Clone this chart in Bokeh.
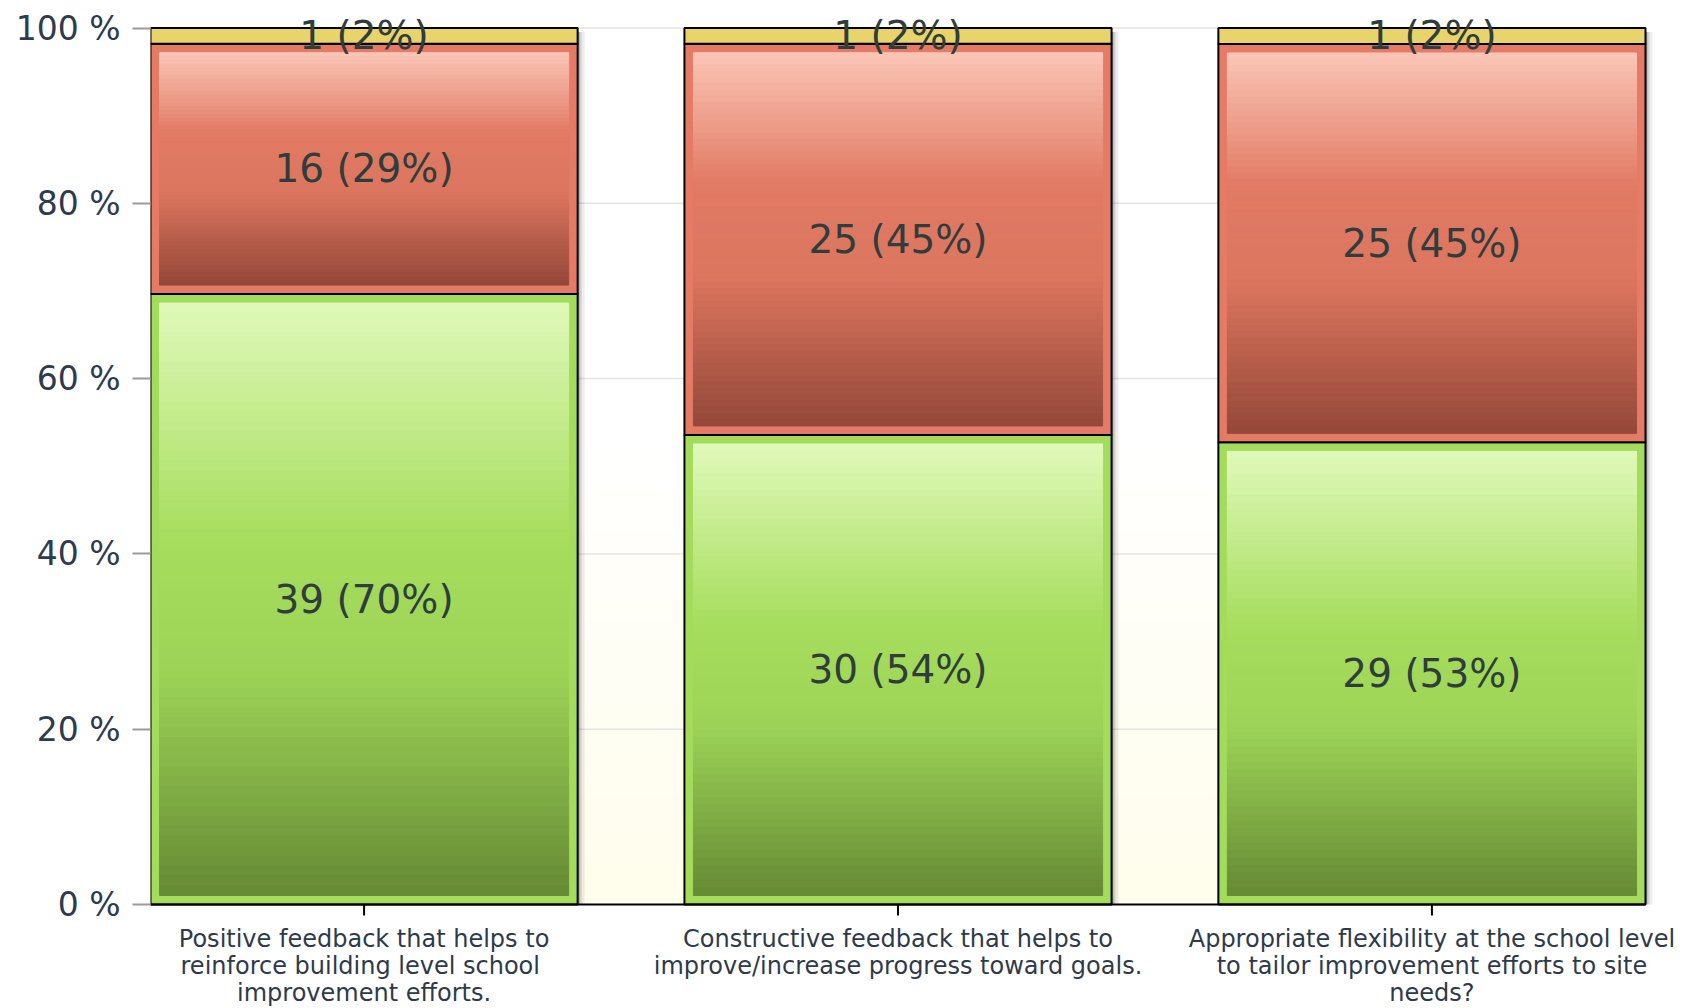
import numpy as np
from bokeh.plotting import figure
from bokeh.models import Range1d, FixedTicker, ColumnDataSource
from bokeh.core.properties import value
from bokeh.embed import file_html
from bokeh.resources import INLINE

# ---------------- data ----------------
categories = [
    "Positive feedback that helps to\nreinforce building  level school\nimprovement efforts.",
    "Constructive feedback that helps to\nimprove/increase progress toward goals.",
    "Appropriate flexibility at the school level\nto tailor improvement efforts to site\nneeds?",
]
green_counts = [39, 30, 29]
red_counts = [16, 25, 25]
yellow_counts = [1, 1, 1]
y_ticks = [0, 20, 40, 60, 80, 100]
y_tick_labels = ["0 %", "20 %", "40 %", "60 %", "80 %", "100 %"]

# ---------------- layout constants ----------------
W, H = 1680, 1008
BL, BT = 150, 10
PLOT_RIGHT = 1645          # canvas x where the plotting area ends
ZERO_PX = 904              # canvas y of the 0 % line
Y_END = 102
X0, X1 = -0.4, 2.4         # plotting area in data units
BAR_W = 0.8
frame_w = W - BL
frame_h = H - BT
px_x = (X1 - X0) / (PLOT_RIGHT - BL)
X_RANGE_END = X0 + frame_w * px_x
px_y = Y_END / (ZERO_PX - BT)
Y_START = Y_END - frame_h * px_y
INSET = 9
FONT = "DejaVu Sans"

def hex2rgb(h):
    h = h.lstrip("#")
    return np.array([int(h[i:i + 2], 16) for i in (0, 2, 4)], dtype=float)

def grad(stops, t):
    ts = [s[0] for s in stops]
    cols = [hex2rgb(s[1]) for s in stops]
    for k in range(len(ts) - 1):
        if ts[k] <= t <= ts[k + 1]:
            f = (t - ts[k]) / (ts[k + 1] - ts[k])
            c = cols[k] * (1 - f) + cols[k + 1] * f
            return "#%02x%02x%02x" % tuple(int(round(v)) for v in c)
    c = cols[-1]
    return "#%02x%02x%02x" % tuple(int(round(v)) for v in c)

green_style = dict(border="#a3dc5b",
                   stops=[(0, "#e0f9ba"), (0.4, "#a6dd5d"), (0.62, "#9dd457"), (1.0, "#668a35")])
red_style = dict(border="#e57b65",
                 stops=[(0, "#fac6b7"), (0.35, "#e27a64"), (0.6, "#dc765f"), (1.0, "#954839")])
yellow_style = dict(border="#e8d46a", stops=None)

series = [(green_counts, green_style), (red_counts, red_style), (yellow_counts, yellow_style)]

p = figure(width=W, height=H, output_backend="svg", toolbar_location=None,
           x_range=Range1d(X0, X_RANGE_END), y_range=Range1d(Y_START, Y_END),
           min_border_left=BL, min_border_right=0, min_border_top=BT, min_border_bottom=0)
p.outline_line_color = None
p.background_fill_color = "white"
p.border_fill_color = "white"

# background gradient (white top -> cream bottom), only inside the plotting area
nb = 40
edges = np.linspace(y_ticks[0], y_ticks[-1], nb + 1)
bg = dict(bottom=edges[:-1], top=edges[1:] + 0.05,
          color=[grad([(0, "#fffdeb"), (0.55, "#ffffff"), (1, "#ffffff")], (e0 + e1) / 200.0)
                 for e0, e1 in zip(edges[:-1], edges[1:])])
p.quad(left=X0, right=X1, bottom="bottom", top="top", fill_color="color", line_color=None,
       source=ColumnDataSource(bg), level="image")

# horizontal grid lines across the plotting area
p.segment(x0=[X0] * len(y_ticks), y0=y_ticks, x1=[X1] * len(y_ticks), y1=y_ticks,
          line_color="#e4e4e4", line_width=1.5, level="underlay")

totals = [sum(c[i] for c, _ in series) for i in range(len(categories))]
xs = list(range(len(categories)))

# shadows on right side
for off0, off1, a in [(0, 2, 0.35), (2, 4, 0.18), (4, 7, 0.07)]:
    p.quad(left=[x + BAR_W / 2 + off0 * px_x for x in xs],
           right=[x + BAR_W / 2 + off1 * px_x for x in xs],
           bottom=0, top=100 - 4 * px_y, fill_color="black", fill_alpha=a, line_color=None)

outer = dict(left=[], right=[], bottom=[], top=[], color=[])
inner = dict(left=[], right=[], bottom=[], top=[], color=[])
lab = dict(x=[], y=[], text=[])

for i, x in enumerate(xs):
    base = 0.0
    for counts, style in series:
        pct = counts[i] / totals[i] * 100.0
        b, t = base, base + pct
        l, r = x - BAR_W / 2, x + BAR_W / 2
        outer["left"].append(l); outer["right"].append(r)
        outer["bottom"].append(b); outer["top"].append(t)
        outer["color"].append(style["border"])
        ib, it = b + INSET * px_y, t - INSET * px_y
        if style["stops"] is not None and it > ib:
            n = 60
            e = np.linspace(it, ib, n + 1)
            for k in range(n):
                tt = (k + 0.5) / n
                inner["left"].append(l + INSET * px_x)
                inner["right"].append(r - INSET * px_x)
                inner["top"].append(e[k])
                inner["bottom"].append(e[k + 1])
                inner["color"].append(grad(style["stops"], tt))
        lab["x"].append(x)
        lab["y"].append((b + t) / 2)
        lab["text"].append(f"{counts[i]} ({round(pct)}%)")
        base = t

p.quad(left="left", right="right", bottom="bottom", top="top", fill_color="color",
       line_color="black", line_width=2, source=ColumnDataSource(outer))
p.quad(left="left", right="right", bottom="bottom", top="top", fill_color="color",
       line_color="color", line_width=1, source=ColumnDataSource(inner))
p.text(x="x", y="y", text="text", source=ColumnDataSource(lab),
       text_font=value(FONT), text_font_size="39px", text_align="center",
       text_baseline="middle", text_color="#2f3d3d")

# x axis drawn at y = 0 (line, ticks, multi-line category labels)
p.xaxis.visible = False
p.segment(x0=[X0], y0=[0], x1=[X1], y1=[0], line_color="black", line_width=2)
p.segment(x0=xs, y0=[0] * len(xs), x1=xs, y1=[-11 * px_y] * len(xs),
          line_color="black", line_width=2)
p.text(x=xs, y=[-20 * px_y] * len(xs), text=categories,
       text_font=value(FONT), text_font_size="24px", text_color="#2e3a4a",
       text_align="center", text_baseline="top", text_line_height=0.97)

p.yaxis.ticker = FixedTicker(ticks=y_ticks)
p.yaxis.major_label_overrides = dict(zip(y_ticks, y_tick_labels))
p.yaxis.major_label_text_font = FONT
p.yaxis.major_label_text_font_size = "33px"
p.yaxis.major_label_text_color = "#2e3a4e"
p.yaxis.major_label_standoff = 12
p.yaxis.axis_line_color = None
p.yaxis.major_tick_line_color = "#9a9a9a"
p.yaxis.major_tick_line_width = 2
p.yaxis.major_tick_out = 18
p.yaxis.major_tick_in = 0
p.yaxis.minor_tick_line_color = None

p.xgrid.grid_line_color = None
p.ygrid.grid_line_color = None

open("out.html", "w").write(file_html(p, INLINE))
